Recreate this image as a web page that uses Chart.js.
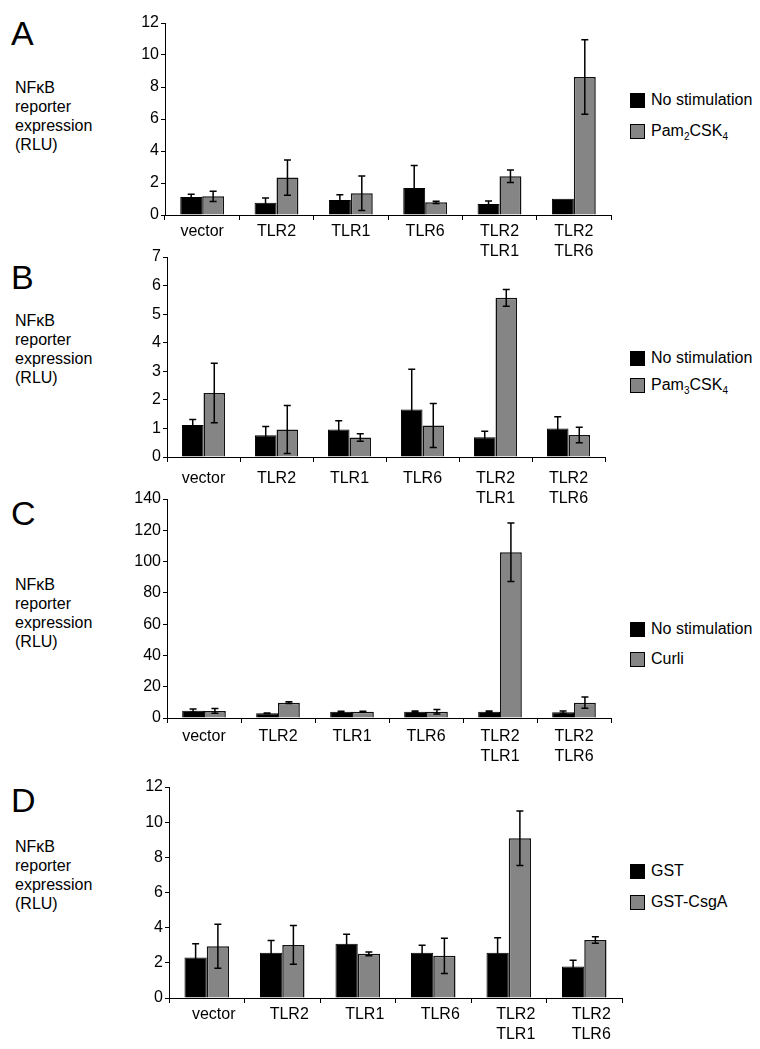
<!DOCTYPE html>
<html>
<head>
<meta charset="utf-8">
<title>NFkB reporter expression</title>
<script src="https://cdn.jsdelivr.net/npm/chart.js@4.4.1/dist/chart.umd.min.js"></script>
<style>
  body { margin: 0; background: #fff; font-family: "Liberation Sans", Arial, sans-serif; color: #000; }
  #page { position: relative; width: 760px; height: 1049px; overflow: hidden; }
  canvas { position: absolute; }
  .letter { position: absolute; left: 11px; font-size: 34px; line-height: 34px; }
  .ytitle { position: absolute; left: 15px; font-size: 16px; line-height: 19px; }
  .legrow { position: absolute; left: 630px; height: 20px; display: flex; align-items: center; font-size: 16px; white-space: nowrap; }
  .sw { width: 13px; height: 13px; border: 1px solid #000; margin-right: 6px; box-sizing: content-box; }
  .sw.black { background: #000; }
  .sw.gray { background: #858585; }
  sub { font-size: 10px; vertical-align: -4px; line-height: 0; }
</style>
</head>
<body>
<div id="page">
  <div class="letter" style="top:16px">A</div>
  <div class="letter" style="top:260px">B</div>
  <div class="letter" style="top:496px">C</div>
  <div class="letter" style="top:783px">D</div>

  <div class="ytitle" style="top:78px">NFκB<br>reporter<br>expression<br>(RLU)</div>
  <div class="ytitle" style="top:311px">NFκB<br>reporter<br>expression<br>(RLU)</div>
  <div class="ytitle" style="top:575px">NFκB<br>reporter<br>expression<br>(RLU)</div>
  <div class="ytitle" style="top:837px">NFκB<br>reporter<br>expression<br>(RLU)</div>

  <div class="legrow" style="top:90px"><div class="sw black"></div><span>No stimulation</span></div>
  <div class="legrow" style="top:121px"><div class="sw gray"></div><span>Pam<sub>2</sub>CSK<sub>4</sub></span></div>
  <div class="legrow" style="top:348px"><div class="sw black"></div><span>No stimulation</span></div>
  <div class="legrow" style="top:375px"><div class="sw gray"></div><span>Pam<sub>3</sub>CSK<sub>4</sub></span></div>
  <div class="legrow" style="top:619px"><div class="sw black"></div><span>No stimulation</span></div>
  <div class="legrow" style="top:649px"><div class="sw gray"></div><span>Curli</span></div>
  <div class="legrow" style="top:861px"><div class="sw black"></div><span>GST</span></div>
  <div class="legrow" style="top:892px"><div class="sw gray"></div><span>GST-CsgA</span></div>

  <canvas id="chartA"></canvas>
  <canvas id="chartB"></canvas>
  <canvas id="chartC"></canvas>
  <canvas id="chartD"></canvas>
</div>

<script>
// categories (x axis)
const categories = ['vector', 'TLR2', 'TLR1', 'TLR6', ['TLR2', 'TLR1'], ['TLR2', 'TLR6']];

// A: Pam2CSK4
const aNoStim    = [1.13, 0.77, 0.94, 1.69, 0.69, 1.02];
const aNoStimErr = [0.16, 0.29, 0.33, 1.40, 0.19, 0];
const aPam2      = [1.17, 2.34, 1.36, 0.79, 2.42, 8.62];
const aPam2Err   = [0.32, 1.10, 1.08, 0.07, 0.39, 2.33];

// B: Pam3CSK4
const bNoStim    = [1.12, 0.76, 0.96, 1.66, 0.69, 1.00];
const bNoStimErr = [0.19, 0.31, 0.31, 1.41, 0.21, 0.41];
const bPam3      = [2.24, 0.96, 0.68, 1.10, 5.57, 0.77];
const bPam3Err   = [1.04, 0.84, 0.13, 0.77, 0.29, 0.27];

// C: curli
const cNoStim    = [4.7, 3.0, 4.0, 4.0, 4.0, 3.6];
const cNoStimErr = [1.0, 0.2, 0.3, 0.5, 0.4, 0.8];
const cCurli     = [4.5, 9.8, 4.0, 4.0, 106, 9.8];
const cCurliErr  = [1.5, 0.6, 0.3, 1.5, 18.7, 3.6];

// D: GST vs GST-CsgA
const dGst       = [2.30, 2.57, 3.09, 2.58, 2.57, 1.79];
const dGstErr    = [0.78, 0.70, 0.53, 0.42, 0.86, 0.36];
const dCsgA      = [2.94, 3.02, 2.51, 2.40, 9.09, 3.30];
const dCsgAErr   = [1.25, 1.10, 0.11, 1.00, 1.55, 0.19];

const FONT = '"Liberation Sans", Arial, sans-serif';
const Y_AXIS_W = 50;
const X_AXIS_H = 55;
const PAD_TOP = 12;
const PAD_RIGHT = 6;

// draws error bars from the errors stored on each dataset
const errorBars = {
    id: 'errorBars',
    afterDatasetsDraw(chart) {
        const ctx = chart.ctx;
        const y = chart.scales.y;
        ctx.save();
        ctx.strokeStyle = '#000';
        ctx.lineWidth = 1.5;
        chart.data.datasets.forEach((ds, i) => {
            const meta = chart.getDatasetMeta(i);
            meta.data.forEach((bar, j) => {
                const e = ds.errors[j];
                if (!e) return;
                const v = ds.data[j];
                const top = y.getPixelForValue(v + e);
                const bot = y.getPixelForValue(Math.max(v - e, 0));
                ctx.beginPath();
                ctx.moveTo(bar.x, top);
                ctx.lineTo(bar.x, bot);
                ctx.moveTo(bar.x - 3.5, top);
                ctx.lineTo(bar.x + 3.5, top);
                ctx.moveTo(bar.x - 3.5, bot);
                ctx.lineTo(bar.x + 3.5, bot);
                ctx.stroke();
            });
        });
        ctx.restore();
    }
};

function makePanel(id, box, yMax, yStep, s1, e1, s2, e2, labelPad, labelOffset) {
    const canvas = document.getElementById(id);
    const w = Y_AXIS_W + (box.right - box.left) + PAD_RIGHT;
    const h = PAD_TOP + (box.bottom - box.top) + X_AXIS_H;
    canvas.width = w;
    canvas.height = h;
    canvas.style.left = (box.left - Y_AXIS_W) + 'px';
    canvas.style.top = (box.top - PAD_TOP) + 'px';

    new Chart(canvas, {
        type: 'bar',
        data: {
            labels: categories,
            datasets: [
                { data: s1, errors: e1, backgroundColor: '#000', borderColor: '#000', borderWidth: 1 },
                { data: s2, errors: e2, backgroundColor: '#858585', borderColor: '#111', borderWidth: 1.5 }
            ]
        },
        options: {
            responsive: false,
            animation: false,
            devicePixelRatio: 1,
            layout: { padding: { top: PAD_TOP, right: PAD_RIGHT, left: 0, bottom: 0 } },
            datasets: { bar: { categoryPercentage: 0.59, barPercentage: 1.0 } },
            plugins: { legend: { display: false }, tooltip: { enabled: false } },
            scales: {
                x: {
                    afterFit: s => { s.height = X_AXIS_H; },
                    grid: { drawOnChartArea: false, offset: true, tickLength: 5, color: '#000', lineWidth: 1 },
                    border: { color: '#000', width: 1 },
                    ticks: {
                        color: '#000',
                        padding: labelPad,
                        labelOffset: labelOffset,
                        maxRotation: 0,
                        autoSkip: false,
                        font: { family: FONT, size: 16, lineHeight: 1.25 }
                    }
                },
                y: {
                    min: 0,
                    max: yMax,
                    afterFit: s => { s.width = Y_AXIS_W; },
                    grid: { drawOnChartArea: false, tickLength: 4, color: '#000', lineWidth: 1 },
                    border: { color: '#000', width: 1 },
                    ticks: {
                        stepSize: yStep,
                        color: '#000',
                        padding: 2,
                        font: { family: FONT, size: 16 }
                    }
                }
            }
        },
        plugins: [errorBars]
    });
}

makePanel('chartA', { left: 165, top: 23, right: 611, bottom: 215 }, 12, 2, aNoStim, aNoStimErr, aPam2, aPam2Err, 2, 0);
makePanel('chartB', { left: 167, top: 257, right: 605, bottom: 457 }, 7, 1, bNoStim, bNoStimErr, bPam3, bPam3Err, 7, 0);
makePanel('chartC', { left: 167, top: 499, right: 611, bottom: 718 }, 140, 20, cNoStim, cNoStimErr, cCurli, cCurliErr, 4, 0);
makePanel('chartD', { left: 169, top: 787, right: 622, bottom: 998 }, 12, 2, dGst, dGstErr, dCsgA, dCsgAErr, 2, 7);
</script>
</body>
</html>
